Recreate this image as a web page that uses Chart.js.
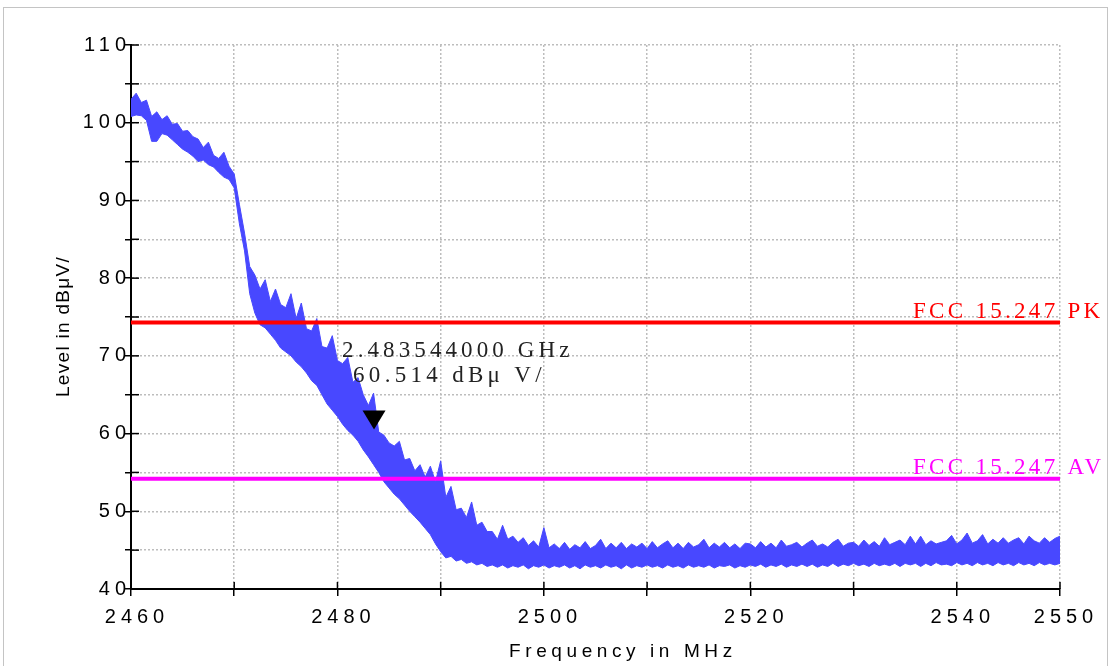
<!DOCTYPE html>
<html><head><meta charset="utf-8">
<script src="https://cdn.jsdelivr.net/npm/chart.js@4"></script>
<style>html,body{margin:0;padding:0;background:#fff;}canvas{display:block;}</style>
</head><body>
<canvas id="c" width="1111" height="666"></canvas>
<script>
// sampling grid of the trace (MHz)
const freqStart = 2460;
const freqStep = 0.5;
const traceUpper = [
  103.0,103.8,102.6,102.9,100.8,101.4,100.4,100.9,99.8,99.9,
  98.9,99.0,98.2,97.9,96.8,97.5,95.8,95.4,96.2,94.4,
  93.4,89.5,85.8,81.5,80.4,78.6,79.8,77.0,78.6,76.6,
  76.2,78.0,74.8,76.8,73.5,73.2,74.8,71.2,71.0,72.6,
  69.4,69.0,69.8,66.6,67.2,65.0,63.6,65.2,60.2,59.8,
  58.8,58.4,59.0,56.6,56.8,55.2,56.0,54.4,55.8,53.8,
  56.5,51.8,53.2,50.2,50.4,49.2,51.2,48.2,48.6,47.4,
  47.4,46.4,48.2,46.4,46.8,46.0,46.6,45.6,46.2,45.4,
  47.9,45.3,45.8,45.2,46.0,45.1,45.7,45.3,46.1,45.2,
  45.6,46.4,45.2,45.9,45.3,46.0,45.2,45.8,45.4,45.9,
  45.2,46.1,45.3,45.8,46.2,45.3,45.9,45.2,46.0,45.4,
  45.7,46.4,45.3,45.9,45.4,46.0,45.3,45.8,45.2,45.9,
  45.8,45.3,46.1,45.4,45.9,45.3,46.3,45.5,45.7,46.0,
  45.4,45.9,46.3,45.5,45.8,45.4,46.0,46.4,45.5,45.9,
  46.0,45.5,46.3,45.6,46.1,45.5,46.6,45.7,46.0,46.3,
  45.7,46.8,45.8,46.8,45.7,46.2,45.8,46.0,46.2,46.9,
  45.8,46.3,47.2,45.9,46.2,47.0,45.8,46.4,45.9,46.6,
  45.9,46.3,46.6,45.8,46.8,46.2,45.9,46.6,46.0,46.5,
  46.8
];
// lower edge of the measured trace (dBµV)
const traceLower = [
  100.8,101.0,100.9,100.3,97.6,97.6,98.6,98.4,97.8,97.2,
  96.6,96.2,95.7,95.0,95.2,94.6,94.3,93.6,93.0,92.7,
  91.6,87.0,83.5,78.0,75.5,74.0,73.6,72.8,72.0,71.0,
  70.5,70.0,69.2,68.6,67.8,66.8,66.2,65.0,63.8,63.0,
  62.2,61.2,60.4,59.8,59.0,57.9,57.0,56.0,55.0,53.8,
  53.0,52.2,51.6,50.8,50.0,49.3,48.6,47.8,47.0,45.8,
  44.8,44.0,44.2,43.6,43.8,43.3,43.5,43.1,43.3,42.9,
  43.1,42.8,43.1,42.7,43.0,42.8,43.1,42.6,43.0,42.8,
  43.1,42.7,43.0,42.8,43.1,42.7,43.0,42.6,43.1,42.8,
  43.0,42.7,43.1,42.8,43.0,42.6,43.1,42.7,43.0,42.8,
  43.1,42.8,43.0,42.7,43.1,42.8,43.0,42.7,43.1,42.8,
  43.0,42.8,43.1,42.7,43.0,42.9,43.1,42.7,43.0,42.8,
  43.1,42.9,43.2,42.8,43.1,42.9,43.2,42.8,43.1,42.9,
  43.2,42.9,43.2,42.8,43.1,42.9,43.3,42.9,43.2,43.0,
  43.3,43.0,43.2,42.9,43.3,43.0,43.2,43.0,43.3,42.9,
  43.3,43.1,43.3,42.9,43.3,43.0,43.4,43.1,43.2,43.0,
  43.4,43.1,43.3,43.0,43.4,43.1,43.3,43.0,43.4,43.1,
  43.3,43.0,43.4,43.1,43.3,43.0,43.4,43.1,43.3,43.1,
  43.3
];
const limitNames = ['FCC 15.247 PK', 'FCC 15.247 AV'];
const limitLevels = [74.3, 54.2];
const limitColors = ['#ff0000', '#ff00ff'];
const markerFreqMHz = [2483.544];
const markerLevel = [60.514];
const markerLines = ['2.483544000 GHz', '60.514 dBμ V/'];
const xTickLabels = [2460, 2480, 2500, 2520, 2540, 2550];
const yTickLabels = [40, 50, 60, 70, 80, 90, 100, 110];
const xTitle = 'Frequency in MHz';
const yTitle = 'Level in dBμV/';

const TRACE = '#4848ff';
const upperPts = traceUpper.map((v, i) => ({x: freqStart + i * freqStep, y: v}));
const lowerPts = traceLower.map((v, i) => ({x: freqStart + i * freqStep, y: v}));
const fMin = freqStart, fMax = freqStart + (traceUpper.length - 1) * freqStep;

const datasets = [
  {data: upperPts, borderColor: TRACE, backgroundColor: TRACE, borderWidth: 1, pointRadius: 0, fill: '+1', order: 2},
  {data: lowerPts, borderColor: TRACE, backgroundColor: TRACE, borderWidth: 1, pointRadius: 0, fill: false, order: 2}
];
limitLevels.forEach((lv, i) => datasets.push({
  data: [{x: fMin, y: lv}, {x: fMax, y: lv}], borderColor: limitColors[i], borderWidth: 4,
  pointRadius: 0, fill: false, order: 1
}));

const decor = {
  id: 'decor',
  beforeDraw(chart) { chart.ctx.letterSpacing = '5px'; },
  beforeDatasetsDraw(chart) {
    const {ctx, chartArea: a, scales: {x, y}} = chart;
    ctx.save();
    ctx.strokeStyle = '#000'; ctx.lineWidth = 1.5;
    y.ticks.forEach(t => { const py = y.getPixelForValue(t.value); ctx.beginPath(); ctx.moveTo(a.left, py); ctx.lineTo(a.left + 8, py); ctx.stroke(); });
    x.ticks.forEach(t => { const px = x.getPixelForValue(t.value); ctx.beginPath(); ctx.moveTo(px, a.bottom); ctx.lineTo(px, a.bottom - 7); ctx.stroke(); });
    ctx.restore();
  },
  afterDraw(chart) {
    const {ctx, chartArea: a, scales: {x, y}} = chart;
    ctx.save();
    // outer frame
    ctx.letterSpacing = '0px';
    ctx.strokeStyle = '#c4c4c4'; ctx.lineWidth = 1;
    ctx.strokeRect(3.5, 7.5, 1104, 700);
    // limit labels
    ctx.font = '23px "Liberation Serif", "Times New Roman", serif';
    ctx.letterSpacing = '3.3px';
    ctx.textAlign = 'left'; ctx.textBaseline = 'alphabetic';
    limitLevels.forEach((lv, i) => {
      ctx.fillStyle = limitColors[i];
      ctx.fillText(limitNames[i], a.right - 147, y.getPixelForValue(lv) - 4.5);
    });
    // marker
    markerFreqMHz.forEach((f, i) => {
      const mx = x.getPixelForValue(f), my = y.getPixelForValue(markerLevel[i]);
      ctx.fillStyle = '#000';
      ctx.beginPath(); ctx.moveTo(mx, my); ctx.lineTo(mx - 11.5, my - 19); ctx.lineTo(mx + 11.5, my - 19); ctx.closePath(); ctx.fill();
      ctx.fillStyle = '#222';
      ctx.letterSpacing = '4.1px';
      ctx.fillText(markerLines[0], mx - 32, my - 73);
      ctx.letterSpacing = '4.3px';
      ctx.fillText(markerLines[1], mx - 21, my - 48);
    });
    // axis titles
    ctx.fillStyle = '#000';
    ctx.font = '19px "Liberation Sans", Arial, sans-serif';
    ctx.letterSpacing = '4.6px';
    ctx.fillText(xTitle, 509, 657);
    ctx.letterSpacing = '1.3px';
    ctx.translate(69, 397); ctx.rotate(-Math.PI / 2);
    ctx.fillText(yTitle, 0, 0);
    ctx.restore();
  }
};

new Chart(document.getElementById('c'), {
  type: 'line',
  data: {datasets},
  options: {
    responsive: false, animation: false, devicePixelRatio: 1,
    layout: {padding: {left: 0, right: 51, top: 45, bottom: 0}},
    plugins: {legend: {display: false}, tooltip: {enabled: false}},
    elements: {line: {tension: 0}},
    scales: {
      x: {
        type: 'linear', min: 2460, max: 2550,
        afterFit(s) { s.height = 77; },
        grid: {color: '#bdbdbd', lineWidth: 1.5, drawTicks: true, tickLength: 7, tickColor: '#000', tickWidth: 1.5},
        border: {display: true, color: '#000', width: 2, dash: [2, 2]},
        ticks: {stepSize: 10, autoSkip: false, maxRotation: 0, minRotation: 0, padding: 9, labelOffset: 6,
          color: '#000', font: {family: '"Liberation Sans", Arial, sans-serif', size: 20},
          callback: v => xTickLabels.includes(v) ? String(v) : ''}
      },
      y: {
        min: 40, max: 110,
        afterFit(s) { s.width = 131; },
        grid: {color: '#bdbdbd', lineWidth: 1.5, drawTicks: true, tickLength: 6, tickColor: '#000', tickWidth: 1.5},
        border: {display: true, color: '#000', width: 2, dash: [2, 2]},
        ticks: {stepSize: 5, autoSkip: false, padding: -6,
          color: '#000', font: {family: '"Liberation Sans", Arial, sans-serif', size: 20},
          callback: v => yTickLabels.includes(v) ? String(v) : ''}
      }
    }
  },
  plugins: [decor]
});
</script>
</body></html>
